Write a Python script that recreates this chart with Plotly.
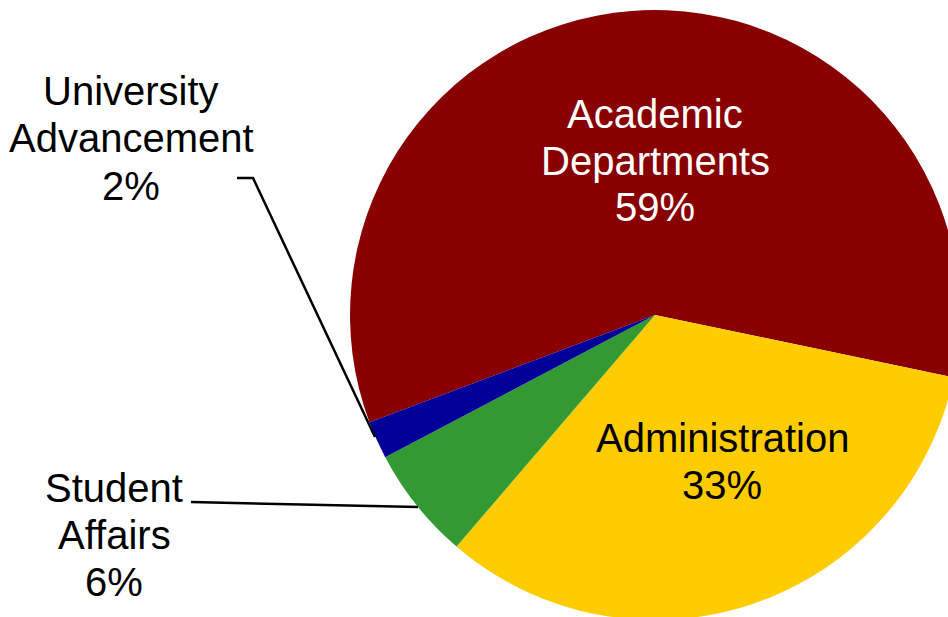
import plotly.graph_objects as go

# Budget shares by division (percent)
categories = ["Academic Departments", "Administration", "Student Affairs", "University Advancement"]
shares = [59, 33, 6, 2]
slice_colors = ["#880000", "#FFCC00", "#339933", "#000099"]

# Label lines for each category (the last line is the share)
label_lines = {
    "Academic Departments": ["Academic", "Departments"],
    "Administration": ["Administration"],
    "Student Affairs": ["Student", "Affairs"],
    "University Advancement": ["University", "Advancement"],
}

W, H = 962, 622
cx, cy, r = 655, 315, 305


def px(x):
    return x / W


def py(y):
    return 1 - y / H


fig = go.Figure(
    go.Pie(
        labels=categories,
        values=shares,
        sort=False,
        direction="clockwise",
        rotation=249.4,
        marker=dict(colors=slice_colors, line=dict(width=0)),
        textinfo="none",
        hoverinfo="label+percent",
        showlegend=False,
        domain=dict(x=[px(cx - r), px(cx + r)], y=[py(cy + r), py(cy - r)]),
    )
)

# label placement: (center x, middle of first line y, line step, colour)
placement = {
    "Academic Departments": (655, 114, 46.5, "white"),
    "Administration": (722, 438, 47, "black"),
    "Student Affairs": (114, 488, 47, "black"),
    "University Advancement": (131, 91, 47.5, "black"),
}

annotations = []
for name, value in zip(categories, shares):
    x0, y0, step, color = placement[name]
    lines = label_lines[name] + [f"{value}%"]
    for i, line in enumerate(lines):
        annotations.append(
            dict(
                x=px(x0), y=py(y0 + i * step), xref="paper", yref="paper",
                text=line, showarrow=False, xanchor="center", yanchor="middle",
                font=dict(family="Liberation Sans, Arial, sans-serif", size=40, color=color),
            )
        )

# leader lines for the two small slices
shapes = [
    dict(type="path", xref="paper", yref="paper",
         path=f"M {px(237)} {py(178)} L {px(253)} {py(178)} L {px(375)} {py(437)}",
         line=dict(color="black", width=2.5)),
    dict(type="line", xref="paper", yref="paper",
         x0=px(191), y0=py(502), x1=px(418), y1=py(507),
         line=dict(color="black", width=2.5)),
]

fig.update_layout(
    width=W, height=H,
    margin=dict(l=0, r=0, t=0, b=0),
    paper_bgcolor="white",
    plot_bgcolor="white",
    annotations=annotations,
    shapes=shapes,
)

fig.write_html(
    "out.html",
    post_script="document.documentElement.style.overflow='hidden';document.body.style.overflow='hidden';",
)
